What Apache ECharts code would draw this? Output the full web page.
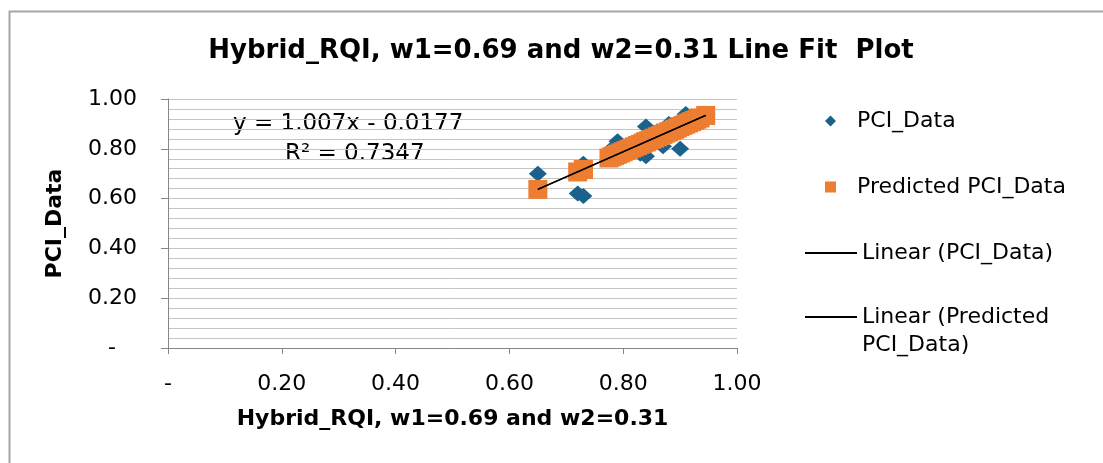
<!DOCTYPE html>
<html>
<head>
<meta charset="utf-8">
<script src="https://cdn.jsdelivr.net/npm/echarts@6/dist/echarts.min.js"></script>
<style>
  html, body { margin: 0; padding: 0; background: #fff; }
  #chart { width: 1103px; height: 463px; }
</style>
</head>
<body>
<div id="chart"></div>
<script>
// Hybrid_RQI (x) values
var rqiValues = [0.65, 0.72, 0.73, 0.73, 0.775, 0.78, 0.785, 0.79, 0.795, 0.80,
  0.805, 0.81, 0.815, 0.82, 0.825, 0.83, 0.835, 0.84, 0.84, 0.845,
  0.85, 0.855, 0.86, 0.865, 0.87, 0.875, 0.88, 0.885, 0.89, 0.895,
  0.90, 0.905, 0.91, 0.915, 0.92, 0.925, 0.93, 0.935, 0.945];
// observed PCI
var pciValues = [0.70, 0.62, 0.61, 0.74, 0.77, 0.80, 0.78, 0.83, 0.79, 0.80,
  0.81, 0.79, 0.82, 0.81, 0.83, 0.78, 0.84, 0.89, 0.77, 0.85,
  0.83, 0.86, 0.87, 0.85, 0.81, 0.88, 0.90, 0.86, 0.89, 0.87,
  0.80, 0.91, 0.94, 0.90, 0.93, 0.91, 0.92, 0.93, 0.93];
// predicted PCI
var predValues = [0.637, 0.707, 0.717, 0.717, 0.763, 0.768, 0.773, 0.778, 0.783, 0.788,
  0.793, 0.798, 0.803, 0.808, 0.813, 0.818, 0.823, 0.828, 0.828, 0.833,
  0.838, 0.843, 0.848, 0.853, 0.858, 0.863, 0.868, 0.873, 0.878, 0.883,
  0.889, 0.894, 0.899, 0.904, 0.909, 0.914, 0.919, 0.924, 0.934];
// trendline ends
var trendX = [0.65, 0.945];
var trendY = [0.637, 0.934];

var FONT = "DejaVu Sans";

function pairs(xs, ys) {
  return xs.map(function (x, i) { return [x, ys[i]]; });
}

var chart = echarts.init(document.getElementById("chart"));

// marker legends: small icon, text pushed right with a spacer
function markerLegend(name, icon, top) {
  return {
    data: [{ name: name, icon: icon }],
    left: 820,
    top: top,
    itemWidth: 11,
    itemHeight: 11,
    selectedMode: false,
    formatter: function (n) { return "{s|}" + n; },
    textStyle: { fontFamily: FONT, fontSize: 22, color: "#000", rich: { s: { width: 16 } } },
  };
}

// line legends: long thin black bar
function lineLegend(name, top, label) {
  return {
    data: [{ name: name, icon: "rect" }],
    left: 800,
    top: top,
    itemWidth: 52,
    itemHeight: 2,
    selectedMode: false,
    itemStyle: { color: "#000" },
    formatter: function (n) { return label || n; },
    textStyle: { fontFamily: FONT, fontSize: 22, color: "#000", lineHeight: 28 },
  };
}

chart.setOption({
  animation: false,
  backgroundColor: "#fff",
  title: {
    text: "Hybrid_RQI, w1=0.69 and w2=0.31 Line Fit  Plot",
    left: 556,
    top: 33,
    textAlign: "center",
    textStyle: { fontFamily: FONT, fontSize: 26, fontWeight: "bold", color: "#000" },
  },
  grid: { left: 168, right: 366, top: 99, bottom: 115 },
  legend: [
    markerLegend("PCI_Data", "diamond", 105),
    markerLegend("Predicted PCI_Data", "rect", 171),
    lineLegend("Linear (PCI_Data)", 234),
    lineLegend("Linear (Predicted PCI_Data)", 270, " \nLinear (Predicted\nPCI_Data)"),
  ],
  xAxis: {
    type: "value",
    min: 0,
    max: 1,
    interval: 0.2,
    name: "Hybrid_RQI, w1=0.69 and w2=0.31",
    nameLocation: "middle",
    nameGap: 60,
    nameTextStyle: { fontFamily: FONT, fontSize: 22, fontWeight: "bold", color: "#000" },
    axisLine: { lineStyle: { color: "#868686", width: 1 } },
    axisTick: { show: true, inside: false, length: 6, lineStyle: { color: "#868686" } },
    axisLabel: {
      margin: 25,
      fontFamily: FONT,
      fontSize: 22,
      color: "#000",
      formatter: function (v) { return v === 0 ? "-" : v.toFixed(2); },
    },
    splitLine: { show: false },
  },
  yAxis: {
    type: "value",
    min: 0,
    max: 1,
    interval: 0.2,
    name: "PCI_Data",
    nameLocation: "middle",
    nameGap: 102,
    nameTextStyle: { fontFamily: FONT, fontSize: 22, fontWeight: "bold", color: "#000" },
    axisLine: { show: true, lineStyle: { color: "#868686", width: 1 } },
    axisTick: { show: true, inside: false, length: 7, lineStyle: { color: "#868686" } },
    axisLabel: {
      margin: 31,
      fontFamily: FONT,
      fontSize: 22,
      color: "#000",
      formatter: function (v) { return v === 0 ? "-   " : v.toFixed(2); },
    },
    splitLine: { show: true, lineStyle: { color: "#c4c4c4", width: 1 } },
    minorTick: { show: false, splitNumber: 5 },
    minorSplitLine: { show: true, lineStyle: { color: "#c4c4c4", width: 1 } },
  },
  graphic: [
    {
      type: "rect",
      left: 7,
      top: 9,
      silent: true,
      shape: { width: 1120, height: 480 },
      style: { fill: null, stroke: "#a6a6a6", lineWidth: 2 },
    },
    {
      type: "text",
      left: 233,
      top: 113,
      style: { text: "y = 1.007x - 0.0177", font: "23px 'DejaVu Sans'", fill: "#000" },
    },
    {
      type: "text",
      left: 285,
      top: 143,
      style: { text: "R\u00b2 = 0.7347", font: "23px 'DejaVu Sans'", fill: "#000" },
    },
  ],
  series: [
    {
      name: "PCI_Data",
      type: "scatter",
      symbol: "diamond",
      symbolSize: [18, 16],
      itemStyle: { color: "#1a628c", opacity: 1 },
      data: pairs(rqiValues, pciValues),
      z: 2,
    },
    {
      name: "Predicted PCI_Data",
      type: "scatter",
      symbol: "rect",
      symbolSize: 19,
      itemStyle: { color: "#ed7d31", opacity: 1 },
      data: pairs(rqiValues, predValues),
      z: 3,
    },
    {
      name: "Linear (PCI_Data)",
      type: "line",
      showSymbol: false,
      symbol: "none",
      lineStyle: { color: "#000", width: 1.5 },
      itemStyle: { color: "#000" },
      data: pairs(trendX, trendY),
      z: 4,
    },
    {
      name: "Linear (Predicted PCI_Data)",
      type: "line",
      showSymbol: false,
      symbol: "none",
      lineStyle: { color: "#000", width: 1.5 },
      itemStyle: { color: "#000" },
      data: pairs(trendX, trendY),
      z: 4,
    },
  ],
});
</script>
</body>
</html>
